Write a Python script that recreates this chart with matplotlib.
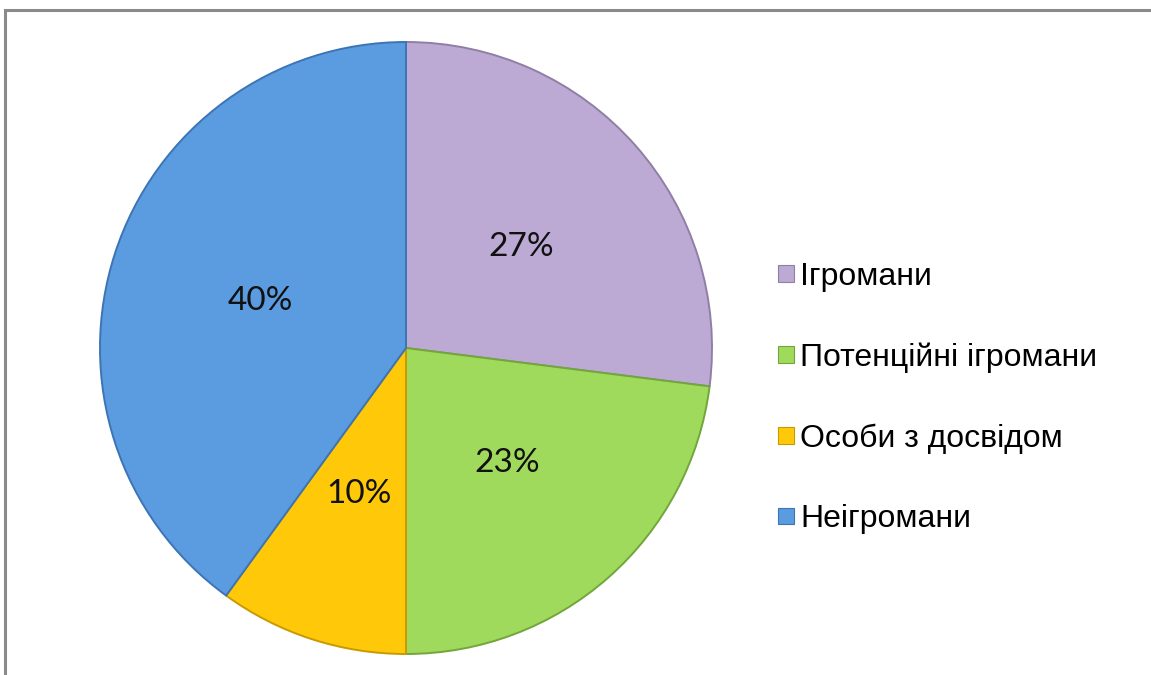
import matplotlib.pyplot as plt
from matplotlib.patches import Patch, Rectangle

# дані діаграми
categories = ['Ігромани', 'Потенційні ігромани', 'Особи з досвідом', 'Неігромани']
shares = [27, 23, 10, 40]
colors = ['#bca9d4', '#9fda5c', '#ffc90a', '#5b9be0']
edge_colors = ['#8f7fa5', '#72a63a', '#c99a00', '#3d74b5']

W, H = 1151, 675
fig = plt.figure(figsize=(W / 100, H / 100), dpi=100)

# рамка (обрізана праворуч і знизу)
fig.patches.append(Rectangle((4.5 / W, -0.05), 1.2, (H - 10) / H + 0.05,
                             transform=fig.transFigure, fill=False,
                             edgecolor='#8a8a8a', linewidth=2.2))

cx, cy, r = 406, H - 348, 306
ax = fig.add_axes([(cx - r) / W, (cy - r) / H, 2 * r / W, 2 * r / H])
wedges, texts, autotexts = ax.pie(
    shares, colors=colors, startangle=90, counterclock=False,
    autopct='%1.0f%%', pctdistance=0.5,
    wedgeprops=dict(linewidth=1.4),
    textprops=dict(fontsize=24, family='Lato', color='#111111'))
for w, ec in zip(wedges, edge_colors):
    w.set_edgecolor(ec)
ax.set_xlim(-1, 1)
ax.set_ylim(-1, 1)
ax.set_aspect('equal')
ax.axis('off')

handles = [Patch(facecolor=c, edgecolor=ec, linewidth=0.8) for c, ec in zip(colors, edge_colors)]
fig.legend(handles, categories, loc='upper left', bbox_to_anchor=(778 / W, 1 - 262 / H),
           frameon=False, prop=dict(family='Liberation Sans', size=23),
           handlelength=0.5, handleheight=0.42, handletextpad=0.2,
           labelspacing=1.58, borderpad=0, borderaxespad=0)

fig.savefig('out.png', dpi=100)
